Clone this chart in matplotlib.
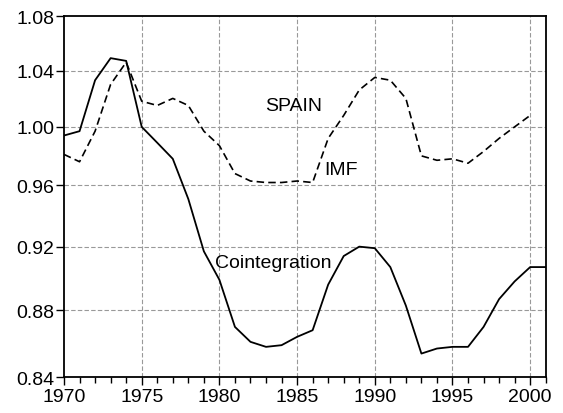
import matplotlib.pyplot as plt
from matplotlib.ticker import FixedLocator, NullLocator, MultipleLocator

plt.rcParams['font.family'] = ['Liberation Sans', 'DejaVu Sans']

# Annual values (log scale y axis)
years_coint = list(range(1970, 2002))
cointegration = [0.994, 0.997, 1.033, 1.049, 1.047, 1.000, 0.989, 0.978, 0.951, 0.917,
                 0.899, 0.870, 0.861, 0.858, 0.859, 0.864, 0.868, 0.896, 0.914, 0.920,
                 0.919, 0.907, 0.883, 0.854, 0.857, 0.858, 0.858, 0.870, 0.887, 0.898,
                 0.907, 0.907]

years_imf = list(range(1970, 2001))
imf = [0.981, 0.976, 0.997, 1.030, 1.046, 1.018, 1.015, 1.020, 1.015, 0.997,
       0.987, 0.968, 0.963, 0.962, 0.962, 0.963, 0.962, 0.992, 1.008, 1.026,
       1.035, 1.033, 1.020, 0.980, 0.977, 0.978, 0.975, 0.983, 0.992, 1.000,
       1.008]

yticks = [0.84, 0.88, 0.92, 0.96, 1.00, 1.04, 1.08]
xticks = [1970, 1975, 1980, 1985, 1990, 1995, 2000]

fig = plt.figure(figsize=(5.63, 4.14), dpi=100)
ax = fig.add_axes([0.1137, 0.0862, 0.8556, 0.872])

ax.plot(years_coint, cointegration, color='black', linewidth=1.3)
ax.plot(years_imf, imf, color='black', linewidth=1.2, dashes=(4.5, 2.5))

ax.set_yscale('log')
ax.set_ylim(0.84, 1.08)
ax.set_xlim(1970, 2001)

ax.yaxis.set_major_locator(FixedLocator(yticks))
ax.yaxis.set_minor_locator(NullLocator())
ax.set_yticklabels([f"{v:.2f}" for v in yticks])
ax.xaxis.set_major_locator(FixedLocator(xticks))
ax.xaxis.set_minor_locator(MultipleLocator(1))

ax.tick_params(axis='both', which='major', labelsize=14, direction='out', width=1)
ax.tick_params(axis='x', which='major', length=6, pad=2)
ax.tick_params(axis='x', which='minor', direction='out', length=4, width=1)
ax.tick_params(axis='y', which='major', length=6, pad=1)

# grid lines, skipping the ones on the frame
for x in xticks[1:]:
    ax.axvline(x, color='#999999', linewidth=0.8, dashes=(4, 2), zorder=0)
for y in yticks[1:-1]:
    ax.axhline(y, color='#999999', linewidth=0.8, dashes=(4, 2), zorder=0)

for s in ax.spines.values():
    s.set_linewidth(1.3)

ax.text(1982.95, 1.0153, "SPAIN", fontsize=14, va='center', ha='left')
ax.text(1986.75, 0.971, "IMF", fontsize=14, va='center', ha='left')
ax.text(1979.7, 0.9097, "Cointegration", fontsize=14, va='center', ha='left')

fig.savefig("out.png", dpi=100)
